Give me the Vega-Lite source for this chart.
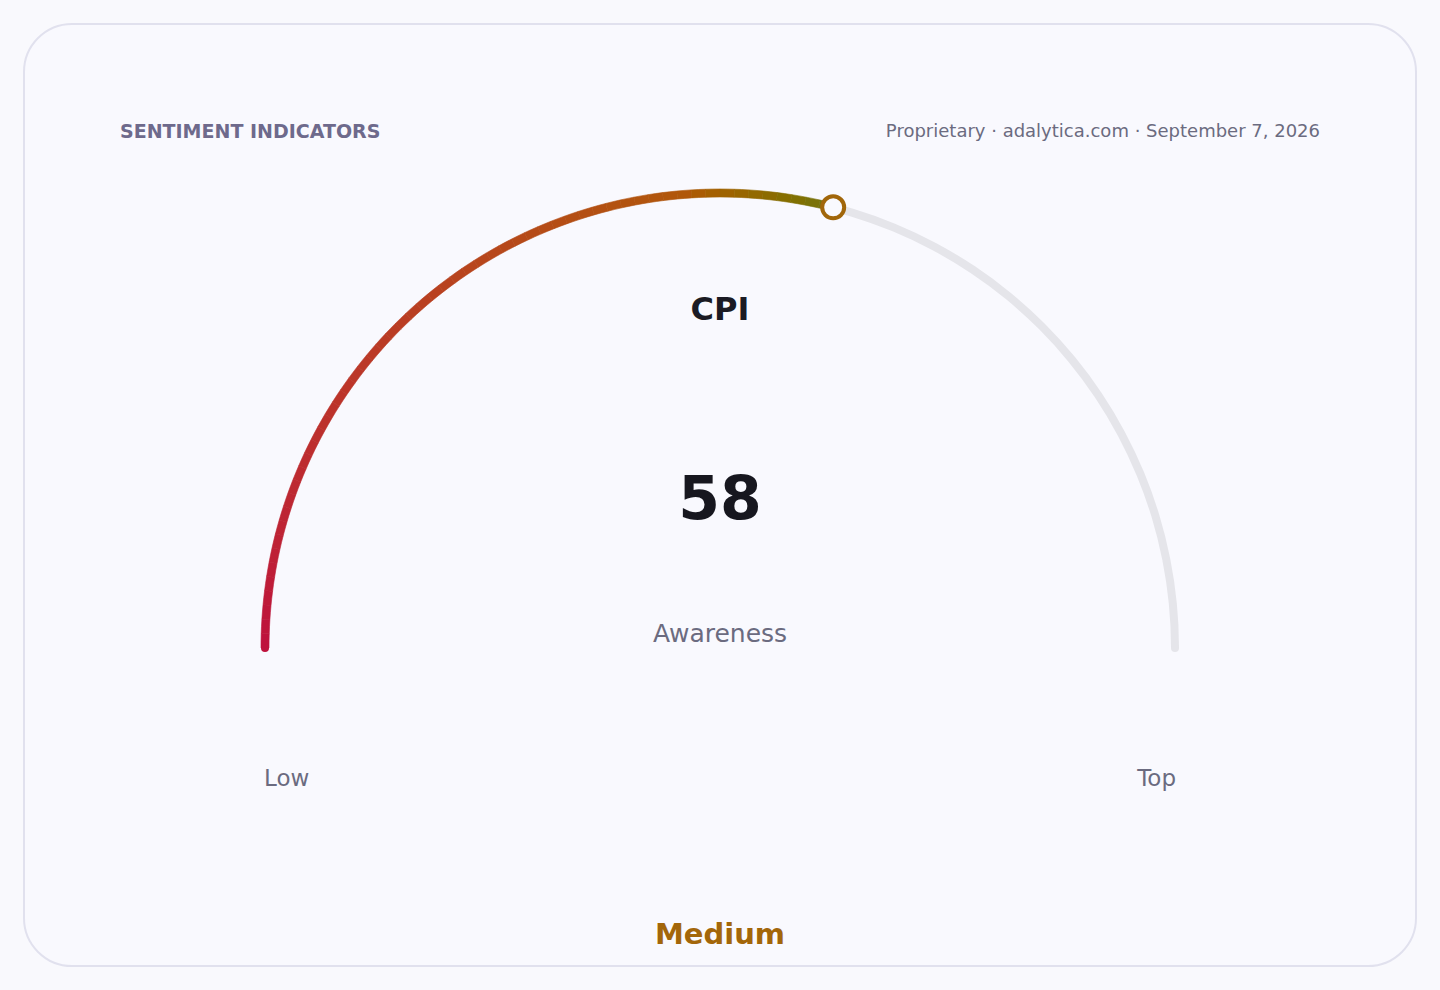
{
  "$schema": "https://vega.github.io/schema/vega-lite/v6.json",
  "width": 1392,
  "height": 942,
  "padding": 24,
  "autosize": {"type": "none"},
  "background": "#f9f9fd",
  "config": {
    "font": "DejaVu Sans",
    "view": {"fill": "#f9f9fe", "stroke": "#e1e1ee", "strokeWidth": 2, "cornerRadius": 48}
  },
  "layer": [
    {
      "data": {"values": [{"a": 0, "b": 100}]},
      "mark": {"type": "arc", "outerRadius": 459, "innerRadius": 451, "color": "#e5e5ea"},
      "encoding": {
        "x": {"datum": 0, "type": "quantitative", "axis": null,
              "scale": {"domain": [-1.52632, 1.52632], "nice": false, "zero": false}},
        "y": {"datum": 0, "type": "quantitative", "axis": null,
              "scale": {"domain": [-0.69737, 1.36842], "nice": false, "zero": false}},
        "theta": {"field": "a", "type": "quantitative",
                  "scale": {"domain": [0, 100], "range": [-1.570796, 1.570796]}},
        "theta2": {"field": "b"}
      }
    },
    {
      "data": {"values": [{"p": "end"}]},
      "mark": {"type": "point", "filled": true, "size": 64, "color": "#e5e5ea", "opacity": 1},
      "encoding": {
        "x": {"datum": 0.9978, "type": "quantitative"},
        "y": {"datum": 0, "type": "quantitative"}
      }
    },
    {
      "data": {"values": [
        {"a": 0, "b": 1}, {"a": 1, "b": 2}, {"a": 2, "b": 3}, {"a": 3, "b": 4}, {"a": 4, "b": 5},
        {"a": 5, "b": 6}, {"a": 6, "b": 7}, {"a": 7, "b": 8}, {"a": 8, "b": 9}, {"a": 9, "b": 10},
        {"a": 10, "b": 11}, {"a": 11, "b": 12}, {"a": 12, "b": 13}, {"a": 13, "b": 14}, {"a": 14, "b": 15},
        {"a": 15, "b": 16}, {"a": 16, "b": 17}, {"a": 17, "b": 18}, {"a": 18, "b": 19}, {"a": 19, "b": 20},
        {"a": 20, "b": 21}, {"a": 21, "b": 22}, {"a": 22, "b": 23}, {"a": 23, "b": 24}, {"a": 24, "b": 25},
        {"a": 25, "b": 26}, {"a": 26, "b": 27}, {"a": 27, "b": 28}, {"a": 28, "b": 29}, {"a": 29, "b": 30},
        {"a": 30, "b": 31}, {"a": 31, "b": 32}, {"a": 32, "b": 33}, {"a": 33, "b": 34}, {"a": 34, "b": 35},
        {"a": 35, "b": 36}, {"a": 36, "b": 37}, {"a": 37, "b": 38}, {"a": 38, "b": 39}, {"a": 39, "b": 40},
        {"a": 40, "b": 41}, {"a": 41, "b": 42}, {"a": 42, "b": 43}, {"a": 43, "b": 44}, {"a": 44, "b": 45},
        {"a": 45, "b": 46}, {"a": 46, "b": 47}, {"a": 47, "b": 48}, {"a": 48, "b": 49}, {"a": 49, "b": 50},
        {"a": 50, "b": 51}, {"a": 51, "b": 52}, {"a": 52, "b": 53}, {"a": 53, "b": 54}, {"a": 54, "b": 55},
        {"a": 55, "b": 56}, {"a": 56, "b": 57}, {"a": 57, "b": 58}
      ]},
      "mark": {"type": "arc", "outerRadius": 459, "innerRadius": 451, "strokeWidth": 0.6},
      "encoding": {
        "x": {"datum": 0, "type": "quantitative"},
        "y": {"datum": 0, "type": "quantitative"},
        "theta": {"field": "a", "type": "quantitative"},
        "theta2": {"field": "b"},
        "color": {"field": "a", "type": "quantitative", "legend": null,
                  "scale": {"domain": [0, 47, 58], "range": ["#be123c", "#b0570a", "#6f7516"]}},
        "stroke": {"field": "a", "type": "quantitative", "legend": null,
                   "scale": {"domain": [0, 47, 58], "range": ["#be123c", "#b0570a", "#6f7516"]}}
      }
    },
    {
      "data": {"values": [{"p": "start"}]},
      "mark": {"type": "point", "filled": true, "size": 64, "color": "#be123c", "opacity": 1},
      "encoding": {
        "x": {"datum": -0.9978, "type": "quantitative"},
        "y": {"datum": 0, "type": "quantitative"}
      }
    },
    {
      "data": {"values": [{"value": 58}]},
      "mark": {"type": "point", "filled": false, "size": 484, "fill": "#f9f9fe", "stroke": "#a1660a", "strokeWidth": 4, "opacity": 1},
      "encoding": {
        "x": {"datum": 0.2482, "type": "quantitative"},
        "y": {"datum": 0.9665, "type": "quantitative"}
      }
    },
    {
      "data": {"values": [{"t": "SENTIMENT INDICATORS"}]},
      "mark": {"type": "text", "align": "left", "baseline": "middle", "fontSize": 19, "fontWeight": "bold", "color": "#6e6a8c"},
      "encoding": {
        "x": {"datum": -1.3158, "type": "quantitative"},
        "y": {"datum": 1.1316, "type": "quantitative"},
        "text": {"field": "t"}
      }
    },
    {
      "data": {"values": [{"t": "Proprietary · adalytica.com · September 7, 2026"}]},
      "mark": {"type": "text", "align": "right", "baseline": "middle", "fontSize": 18, "color": "#6b6b80"},
      "encoding": {
        "x": {"datum": 1.3158, "type": "quantitative"},
        "y": {"datum": 1.1316, "type": "quantitative"},
        "text": {"field": "t"}
      }
    },
    {
      "data": {"values": [{"t": "CPI"}]},
      "mark": {"type": "text", "align": "center", "baseline": "middle", "fontSize": 32, "fontWeight": "bold", "color": "#1b1b24"},
      "encoding": {
        "x": {"datum": 0, "type": "quantitative"},
        "y": {"datum": 0.7412, "type": "quantitative"},
        "text": {"field": "t"}
      }
    },
    {
      "data": {"values": [{"t": "58"}]},
      "mark": {"type": "text", "align": "center", "baseline": "middle", "fontSize": 60, "fontWeight": "bold", "color": "#17171f"},
      "encoding": {
        "x": {"datum": 0, "type": "quantitative"},
        "y": {"datum": 0.3224, "type": "quantitative"},
        "text": {"field": "t"}
      }
    },
    {
      "data": {"values": [{"t": "Awareness"}]},
      "mark": {"type": "text", "align": "center", "baseline": "middle", "fontSize": 25, "color": "#6b6b80"},
      "encoding": {
        "x": {"datum": 0, "type": "quantitative"},
        "y": {"datum": 0.0307, "type": "quantitative"},
        "text": {"field": "t"}
      }
    },
    {
      "data": {"values": [{"t": "Low"}]},
      "mark": {"type": "text", "align": "left", "baseline": "middle", "fontSize": 23, "color": "#6b6b80"},
      "encoding": {
        "x": {"datum": -1, "type": "quantitative"},
        "y": {"datum": -0.2873, "type": "quantitative"},
        "text": {"field": "t"}
      }
    },
    {
      "data": {"values": [{"t": "Top"}]},
      "mark": {"type": "text", "align": "right", "baseline": "middle", "fontSize": 23, "color": "#6b6b80"},
      "encoding": {
        "x": {"datum": 1, "type": "quantitative"},
        "y": {"datum": -0.2873, "type": "quantitative"},
        "text": {"field": "t"}
      }
    },
    {
      "data": {"values": [{"t": "Medium"}]},
      "mark": {"type": "text", "align": "center", "baseline": "middle", "fontSize": 29, "fontWeight": "bold", "color": "#a3660a"},
      "encoding": {
        "x": {"datum": 0, "type": "quantitative"},
        "y": {"datum": -0.6294, "type": "quantitative"},
        "text": {"field": "t"}
      }
    }
  ]
}
